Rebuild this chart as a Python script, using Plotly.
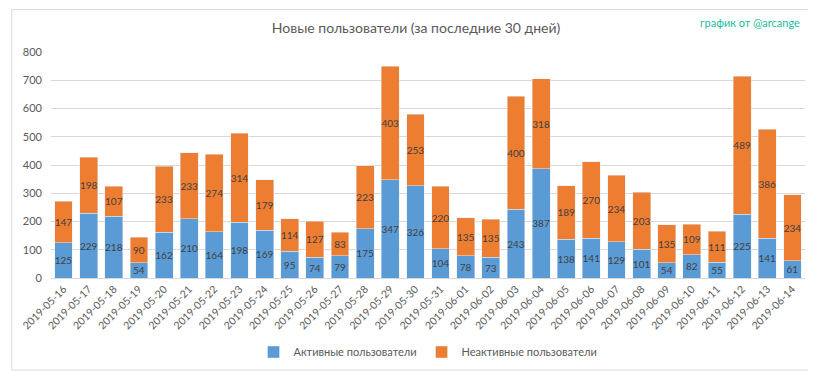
import plotly.graph_objects as go

dates = ["2019-05-16","2019-05-17","2019-05-18","2019-05-19","2019-05-20","2019-05-21","2019-05-22",
         "2019-05-23","2019-05-24","2019-05-25","2019-05-26","2019-05-27","2019-05-28","2019-05-29",
         "2019-05-30","2019-05-31","2019-06-01","2019-06-02","2019-06-03","2019-06-04","2019-06-05",
         "2019-06-06","2019-06-07","2019-06-08","2019-06-09","2019-06-10","2019-06-11","2019-06-12",
         "2019-06-13","2019-06-14"]
active = [125,229,218,54,162,210,164,198,169,95,74,79,175,347,326,104,78,73,243,387,138,141,129,101,54,82,55,225,141,61]
inactive = [147,198,107,90,233,233,274,314,179,114,127,83,223,403,253,220,135,135,400,318,189,270,234,203,135,109,111,489,386,234]

W, H = 816, 371
L, R, T, B = 40, 19, 44, 95
FONT = "Lato"
GRAY = "#595959"

fig = go.Figure()
fig.add_trace(go.Bar(x=dates, y=active, name="Активные пользователи", marker_color="#5B9BD5",
                     text=active, textposition="inside", insidetextanchor="middle", textangle=0,
                     constraintext="none", textfont=dict(size=10, color="#404040", family=FONT)))
fig.add_trace(go.Bar(x=dates, y=inactive, name="Неактивные пользователи", marker_color="#ED7D31",
                     text=inactive, textposition="inside", insidetextanchor="middle", textangle=0,
                     constraintext="none", textfont=dict(size=10, color="#404040", family=FONT)))

pw = W - L - R
ph = H - T - B
fig.update_layout(
    width=W, height=H, barmode="stack", bargap=0.29,
    margin=dict(l=L, r=R, t=T, b=B, pad=0),
    paper_bgcolor="white", plot_bgcolor="white",
    font=dict(family=FONT, color=GRAY, size=11),
    title=dict(text="Новые пользователи (за последние 30 дней)", x=0.5, xanchor="center",
               y=1 - 20/H, yanchor="middle", font=dict(size=14, color=GRAY, family=FONT)),
    xaxis=dict(type="category", tickangle=-45, tickfont=dict(size=10.5, color=GRAY),
               showgrid=False, showline=True, linecolor="#d9d9d9", ticks=""),
    yaxis=dict(range=[0, 800], dtick=100, gridcolor="#d9d9d9", zeroline=False,
               tickfont=dict(size=11, color=GRAY), ticks="", ticklabelstandoff=8),
    legend=dict(orientation="h", x=0.5, xanchor="center", y=-(352 - (H - B)) / ph, yanchor="middle",
                font=dict(size=11, color=GRAY), traceorder="normal", itemwidth=30),
    showlegend=True,
)
fig.add_annotation(text="график от @arcange", xref="paper", yref="paper",
                   x=(690 - L) / pw, xanchor="left", y=1 + (T - 14) / ph, yanchor="middle",
                   showarrow=False, font=dict(size=11, color="#1ABC9C", family=FONT))
fig.add_shape(type="rect", xref="paper", yref="paper",
              x0=(0.5 - L) / pw, x1=(W - 0.5 - L) / pw, y0=-(B - 0.5) / ph, y1=1 + (T - 0.5) / ph,
              line=dict(color="#d9d9d9", width=1), fillcolor="rgba(0,0,0,0)", layer="below")
fig.write_html("out.html")
